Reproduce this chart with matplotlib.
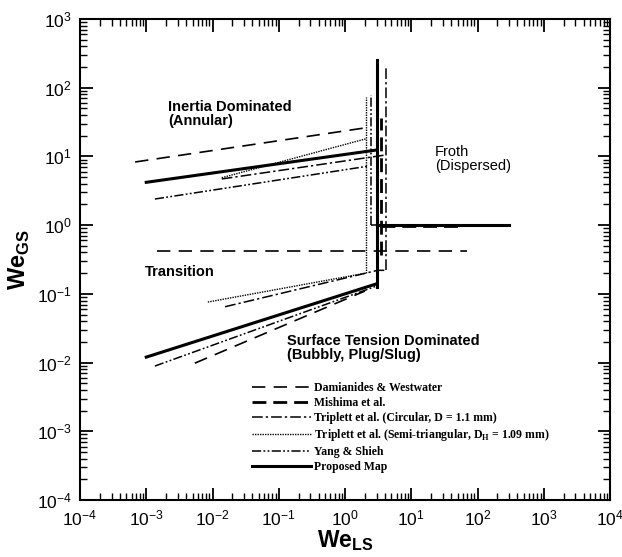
import matplotlib
matplotlib.use("Agg")
import matplotlib.pyplot as plt
from matplotlib.ticker import LogLocator, NullFormatter

plt.rcParams['font.family'] = ['Liberation Sans', 'DejaVu Sans']

# ---------------- data ----------------
# Damianides & Westwater
dw_upper_x = [6.8e-4, 2.0]
dw_upper_y = [8.3, 26.0]
dw_trans_x = [1.45e-3, 70.0]
dw_trans_y = [0.42, 0.42]
dw_lower_x = [5.4e-3, 2.0]
dw_lower_y = [0.0098, 0.11]

# Mishima et al.
mi_vert_x = [3.5, 3.5]
mi_vert_y = [0.37, 36.0]
mi_horz_x = [3.5, 57.0]
mi_horz_y = [0.96, 0.96]

# Triplett et al. (circular)
tc_upper_x = [0.0138, 4.1]
tc_upper_y = [4.7, 10.5]
tc_vert_x = [4.1, 4.1]
tc_vert_y = [0.22, 194.0]
tc_lower_x = [0.0155, 3.1, 4.1]
tc_lower_y = [0.065, 0.22, 0.22]

# Triplett et al. (semi-triangular)
ts_upper_x = [0.0138, 2.05]
ts_upper_y = [4.9, 18.0]
ts_vert_x = [2.05, 2.05]
ts_vert_y = [0.2, 73.0]
ts_lower_x = [0.0085, 2.05]
ts_lower_y = [0.076, 0.2]

# Yang & Shieh
ys_upper_x = [1.35e-3, 2.2]
ys_upper_y = [2.4, 7.2]
ys_vert_x = [2.45, 2.45]
ys_vert_y = [1.02, 78.0]
ys_horz_x = [2.45, 30.0]
ys_horz_y = [1.02, 1.02]
ys_lower_x = [1.35e-3, 3.0]
ys_lower_y = [0.0089, 0.13]

# Proposed map
pm_upper_x = [1e-3, 3.0]
pm_upper_y = [4.2, 12.4]
pm_vert_x = [3.0, 3.0]
pm_vert_y = [0.125, 250.0]
pm_lower_x = [1e-3, 3.0]
pm_lower_y = [0.012, 0.14]
pm_froth_x = [3.0, 300.0]
pm_froth_y = [1.0, 1.0]

legend_labels = [
    "Damianides & Westwater",
    "Mishima et al.",
    "Triplett et al. (Circular, D = 1.1 mm)",
    "Triplett et al. (Semi-triangular, D$_{\\mathdefault{H}}$ = 1.09 mm)",
    "Yang & Shieh",
    "Proposed Map",
]

# ---------------- figure ----------------
fig = plt.figure(figsize=(6.22, 5.57), dpi=100)
ax = fig.add_axes([80/622, 57/557, 530/622, 481/557])
ax.set_xscale('log')
ax.set_yscale('log')
ax.set_xlim(1e-4, 1e4)
ax.set_ylim(1e-4, 1e3)

k = 'black'
st_dw = dict(color=k, lw=1.2, linestyle=(0, (8, 5)))
st_mi = dict(color=k, lw=2.0, linestyle=(0, (5, 2.5)))
st_tc = dict(color=k, lw=1.1, linestyle=(0, (7, 2, 1.5, 2)))
st_ts = dict(color=k, lw=1.0, linestyle=(0, (1, 0.8)))
st_ys = dict(color=k, lw=1.1, linestyle=(0, (6, 1.5, 1.2, 1.5, 1.2, 1.5)))
st_pm = dict(color=k, lw=2.2, linestyle='-')

h_dw, = ax.plot(dw_upper_x, dw_upper_y, **st_dw)
ax.plot(dw_trans_x, dw_trans_y, **st_dw)
ax.plot(dw_lower_x, dw_lower_y, **st_dw)

h_mi, = ax.plot(mi_vert_x, mi_vert_y, **st_mi)
ax.plot(mi_horz_x, mi_horz_y, **st_mi)

h_tc, = ax.plot(tc_upper_x, tc_upper_y, **st_tc)
ax.plot(tc_vert_x, tc_vert_y, **st_tc)
ax.plot(tc_lower_x, tc_lower_y, **st_tc)

h_ts, = ax.plot(ts_upper_x, ts_upper_y, **st_ts)
ax.plot(ts_vert_x, ts_vert_y, **st_ts)
ax.plot(ts_lower_x, ts_lower_y, **st_ts)

h_ys, = ax.plot(ys_upper_x, ys_upper_y, **st_ys)
ax.plot(ys_vert_x, ys_vert_y, **st_ys)
ax.plot(ys_horz_x, ys_horz_y, **st_ys)
ax.plot(ys_lower_x, ys_lower_y, **st_ys)

h_pm, = ax.plot(pm_upper_x, pm_upper_y, **st_pm)
ax.plot(pm_vert_x, pm_vert_y, **st_pm)
ax.plot(pm_lower_x, pm_lower_y, **st_pm)
ax.plot(pm_froth_x, pm_froth_y, **st_pm)

# ---------------- axes styling ----------------
for s in ax.spines.values():
    s.set_linewidth(1.5)
ax.xaxis.set_major_locator(LogLocator(base=10, numticks=20))
ax.yaxis.set_major_locator(LogLocator(base=10, numticks=20))
ax.xaxis.set_minor_locator(LogLocator(base=10, subs=range(2, 10), numticks=100))
ax.yaxis.set_minor_locator(LogLocator(base=10, subs=range(2, 10), numticks=100))
ax.xaxis.set_minor_formatter(NullFormatter())
ax.yaxis.set_minor_formatter(NullFormatter())
ax.tick_params(which='both', direction='in', top=True, right=True, color=k)
ax.tick_params(which='major', length=9, width=1.3, labelsize=12.5, pad=6)
ax.tick_params(which='minor', length=5, width=1.0)

ax.set_xlabel("We$_{\\mathdefault{LS}}$", fontsize=16.5, fontweight='bold', labelpad=0)
ax.set_ylabel("We$_{\\mathdefault{GS}}$", fontsize=17, fontweight='bold', labelpad=3)

# ---------------- annotations ----------------
ax.text(0.166, 0.832, "Inertia Dominated\n(Annular)", transform=ax.transAxes,
        fontsize=10.5, fontweight='bold', va='top', ha='left', linespacing=1.0)
ax.text(0.670, 0.739, "Froth\n(Dispersed)", transform=ax.transAxes,
        fontsize=10.5, va='top', ha='left', linespacing=1.0)
ax.text(0.123, 0.489, "Transition", transform=ax.transAxes,
        fontsize=10.5, fontweight='bold', va='top', ha='left')
ax.text(0.391, 0.346, "Surface Tension Dominated\n(Bubbly, Plug/Slug)", transform=ax.transAxes,
        fontsize=10.5, fontweight='bold', va='top', ha='left', linespacing=1.0)

leg = ax.legend([h_dw, h_mi, h_tc, h_ts, h_ys, h_pm], legend_labels,
                loc='upper left', bbox_to_anchor=(0.324, 0.245), frameon=False,
                prop={'family': 'Liberation Serif', 'weight': 'bold', 'size': 8.5},
                handlelength=5.0, handletextpad=0.3, labelspacing=0.25,
                borderpad=0, borderaxespad=0)

fig.savefig("out.png", dpi=100)
